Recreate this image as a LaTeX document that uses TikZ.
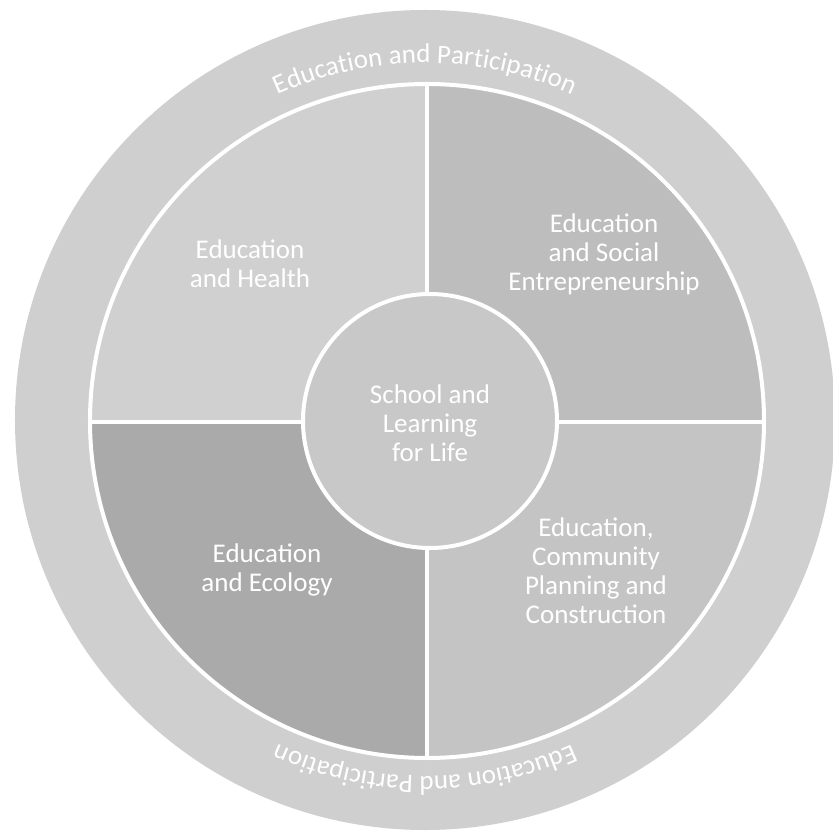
\documentclass[tikz,border=0pt]{standalone}
\usepackage{fontspec}
\setmainfont{Carlito}
\usetikzlibrary{decorations.text}
\definecolor{ringgray}{HTML}{CFCFCF}
\definecolor{tlgray}{HTML}{D0D0D0}
\definecolor{trgray}{HTML}{BDBDBD}
\definecolor{blgray}{HTML}{AAAAAA}
\definecolor{brgray}{HTML}{C4C4C4}
\definecolor{cgray}{HTML}{C8C8C8}
\begin{document}
\begin{tikzpicture}[x=1pt,y=1pt,
  divider/.style={white, line width=4pt},
  lbl/.style={text=white, align=center, font=\fontsize{27}{29}\selectfont, inner sep=0pt},
  ringtext/.style={inner sep=0pt, outer sep=0pt, decorate, decoration={text along path, text align=center, text color=white,
     text={|\fontsize{27}{27}\selectfont|Education and Participation}}}]
\useasboundingbox (-425,-417) rectangle (407,420);
\fill[white] (-425,-417) rectangle (407,420);
\fill[ringgray] (0,0) circle (410);
\begin{scope}
  \clip (2,-1) circle (337);
  \fill[tlgray] (-340,-2) rectangle (2,340);
  \fill[trgray] (2,-2) rectangle (345,340);
  \fill[blgray] (-340,-345) rectangle (2,-2);
  \fill[brgray] (2,-345) rectangle (345,-2);
\end{scope}
\draw[divider] (2,-1) circle (337);
\draw[divider] (2,336) -- (2,-338);
\draw[divider] (-335,-2) -- (339,-2);
\fill[cgray] (5,-1) circle (127);
\draw[divider] (5,-1) circle (127);
\path[ringtext] (155:357) arc[start angle=155, end angle=25, radius=357];
\path[ringtext] (-25:356) arc[start angle=-25, end angle=-155, radius=356];
\node[lbl] (health) at (-175,156) {Education\\and Health};
\node[lbl] (social) at (179,166) {Education\\and Social\\Entrepreneurship};
\node[lbl] (ecology) at (-158,-150) {Education\\and Ecology};
\node[lbl] (community) at (171,-151) {Education,\\Community\\Planning and\\Construction};
\node[lbl] (school) at (5,-3) {School and\\Learning\\for Life};
\end{tikzpicture}
\end{document}
